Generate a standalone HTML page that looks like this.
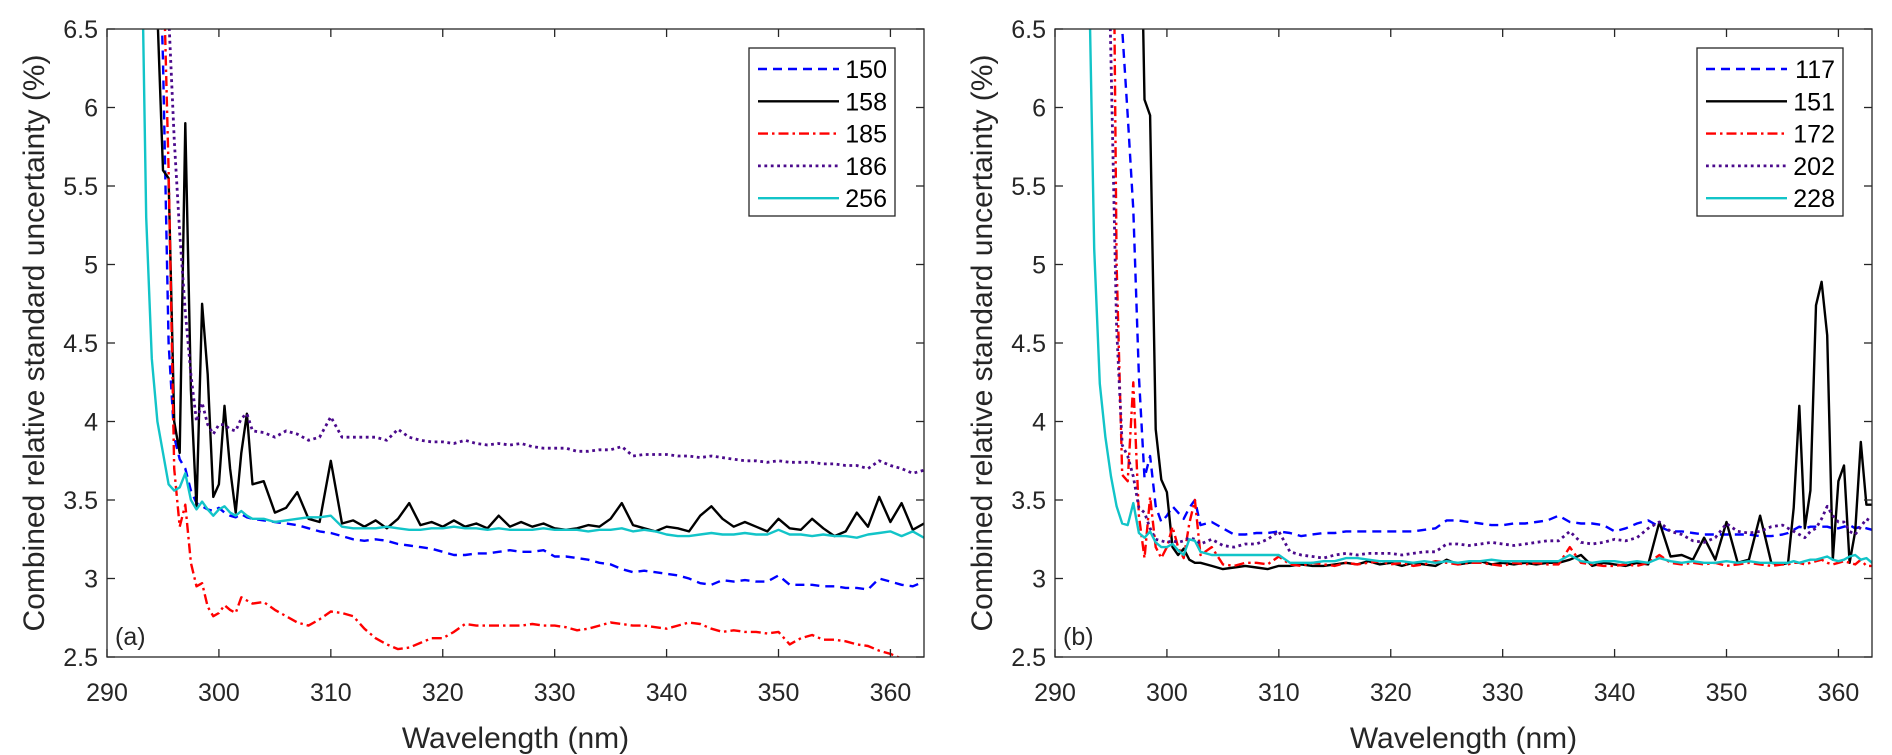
<!DOCTYPE html>
<html><head><meta charset="utf-8"><style>
html,body{margin:0;padding:0;background:#fff;}
svg{display:block;font-family:"Liberation Sans",sans-serif;}
</style></head><body>
<svg id="fig" width="1892" height="755" viewBox="0 0 1892 755"></svg>
<script>
// ---- data ----
const wavelengthsA = [293,293.5,294,294.5,295,295.5,296,296.5,297,297.5,298,298.5,299,299.5,300,300.5,301,301.5,302,302.5,303,
304,305,306,307,308,309,310,311,312,313,314,315,316,317,318,319,320,321,322,323,324,325,326,327,328,329,330,331,332,333,334,335,336,337,338,339,340,341,342,343,344,345,346,347,348,349,350,351,352,353,354,355,356,357,358,359,360,361,362,363];
const wavelengthsB = [293,293.5,294,294.5,295,295.5,296,296.5,297,297.5,298,298.5,299,299.5,300,300.5,301,301.5,302,302.5,303,
304,305,306,307,308,309,310,311,312,313,314,315,316,317,318,319,320,321,322,323,324,325,326,327,328,329,330,331,332,333,334,335,336,337,338,339,340,341,342,343,344,345,346,347,348,349,350,351,352,353,354,355,
355.5,356,356.5,357,357.5,358,358.5,359,359.5,360,360.5,361,361.5,362,362.5,363];

// panel (a)
const a150 = [9,9,8.5,7.5,6.3,4.5,3.9,3.76,3.7,3.56,3.48,3.46,3.44,3.43,3.45,3.42,3.40,3.39,3.41,3.39,3.38,
3.37,3.36,3.35,3.34,3.32,3.30,3.29,3.27,3.25,3.24,3.25,3.24,3.22,3.21,3.20,3.19,3.17,3.15,3.15,3.16,3.16,3.17,3.18,3.17,3.17,3.18,3.14,3.14,3.13,3.12,3.10,3.09,3.06,3.04,3.05,3.04,3.03,3.02,3.00,2.97,2.96,2.99,2.98,2.99,2.98,2.98,3.02,2.96,2.96,2.96,2.95,2.95,2.94,2.94,2.93,3.00,2.98,2.96,2.95,2.98];
const a158 = [9,8,7,6.6,5.6,5.55,4.0,3.8,5.9,4.2,3.45,4.75,4.3,3.52,3.6,4.1,3.7,3.42,3.8,4.05,3.6,
3.62,3.42,3.45,3.55,3.38,3.36,3.75,3.35,3.37,3.33,3.37,3.32,3.38,3.48,3.34,3.36,3.33,3.37,3.33,3.35,3.32,3.40,3.33,3.36,3.33,3.35,3.32,3.31,3.32,3.34,3.33,3.38,3.48,3.34,3.32,3.30,3.33,3.32,3.30,3.40,3.46,3.38,3.33,3.36,3.33,3.30,3.38,3.32,3.31,3.38,3.32,3.27,3.30,3.42,3.33,3.52,3.36,3.48,3.31,3.35];
const a185 = [9,9,9,8,7,5.6,3.7,3.33,3.47,3.1,2.95,2.97,2.82,2.76,2.78,2.83,2.80,2.78,2.88,2.86,2.84,
2.85,2.80,2.76,2.72,2.70,2.74,2.79,2.78,2.76,2.68,2.62,2.58,2.55,2.56,2.59,2.62,2.62,2.66,2.71,2.70,2.70,2.70,2.70,2.70,2.71,2.70,2.70,2.69,2.67,2.68,2.70,2.72,2.71,2.70,2.70,2.69,2.68,2.70,2.72,2.71,2.68,2.66,2.67,2.66,2.66,2.65,2.66,2.58,2.62,2.64,2.61,2.61,2.60,2.58,2.57,2.54,2.52,2.49,2.47,2.46];
const a186 = [9,9,9,8.5,7.5,6.6,5.8,5.2,4.7,4.3,4.0,4.12,3.98,3.92,3.98,3.98,3.95,3.94,4.02,4.05,3.94,
3.93,3.90,3.94,3.92,3.88,3.90,4.03,3.90,3.90,3.90,3.90,3.88,3.95,3.90,3.88,3.87,3.87,3.86,3.88,3.86,3.85,3.86,3.85,3.86,3.84,3.83,3.83,3.83,3.81,3.81,3.82,3.82,3.84,3.78,3.79,3.79,3.79,3.78,3.78,3.77,3.78,3.77,3.76,3.75,3.75,3.74,3.75,3.74,3.74,3.74,3.73,3.73,3.72,3.72,3.70,3.75,3.72,3.70,3.67,3.69];
const a256 = [7.5,5.3,4.4,4.0,3.8,3.6,3.56,3.58,3.67,3.50,3.44,3.49,3.44,3.40,3.44,3.46,3.42,3.40,3.43,3.40,3.38,
3.38,3.36,3.37,3.38,3.39,3.39,3.40,3.33,3.32,3.32,3.32,3.33,3.32,3.31,3.31,3.32,3.32,3.33,3.32,3.32,3.31,3.32,3.31,3.31,3.31,3.32,3.31,3.31,3.31,3.30,3.31,3.31,3.32,3.30,3.31,3.30,3.28,3.27,3.27,3.28,3.29,3.28,3.28,3.29,3.28,3.28,3.31,3.28,3.28,3.27,3.28,3.27,3.27,3.26,3.28,3.29,3.30,3.27,3.30,3.26];

// panel (b)
const b117 = [9,9,9,9,9,8,6.5,5.95,5.35,4.29,3.64,3.78,3.46,3.36,3.40,3.46,3.42,3.38,3.45,3.50,3.34,
3.36,3.32,3.28,3.28,3.29,3.29,3.30,3.29,3.27,3.28,3.29,3.29,3.30,3.30,3.30,3.30,3.30,3.30,3.30,3.31,3.32,3.37,3.37,3.36,3.35,3.34,3.34,3.35,3.35,3.36,3.37,3.40,3.36,3.35,3.35,3.34,3.30,3.32,3.35,3.37,3.33,3.30,3.30,3.29,3.28,3.28,3.28,3.28,3.28,3.27,3.27,3.28,
3.29,3.31,3.33,3.32,3.33,3.33,3.33,3.33,3.32,3.32,3.33,3.34,3.32,3.33,3.32,3.31];
const b151 = [9,9,9,9,9,9,9,9,9,8,6.05,5.95,3.95,3.63,3.55,3.2,3.15,3.19,3.12,3.10,3.10,
3.08,3.06,3.07,3.08,3.07,3.06,3.08,3.08,3.09,3.08,3.08,3.09,3.10,3.09,3.11,3.09,3.10,3.08,3.10,3.09,3.08,3.12,3.09,3.10,3.11,3.09,3.10,3.09,3.10,3.09,3.10,3.10,3.12,3.15,3.08,3.10,3.09,3.08,3.10,3.09,3.36,3.14,3.15,3.12,3.26,3.12,3.36,3.10,3.12,3.40,3.10,3.09,
3.10,3.45,4.10,3.32,3.56,4.74,4.89,4.55,3.12,3.62,3.72,3.10,3.30,3.87,3.47,3.47];
const b172 = [9,9,9,9,9,5.0,3.66,3.62,4.25,3.40,3.13,3.52,3.20,3.13,3.20,3.33,3.20,3.13,3.35,3.50,3.15,
3.20,3.09,3.08,3.10,3.10,3.09,3.14,3.09,3.08,3.10,3.09,3.08,3.10,3.09,3.10,3.11,3.09,3.10,3.08,3.09,3.11,3.10,3.09,3.10,3.10,3.09,3.08,3.10,3.09,3.10,3.09,3.09,3.20,3.10,3.09,3.08,3.08,3.09,3.08,3.10,3.15,3.10,3.09,3.10,3.09,3.10,3.08,3.09,3.10,3.09,3.08,3.09,
3.09,3.10,3.10,3.09,3.10,3.11,3.12,3.10,3.09,3.10,3.11,3.10,3.09,3.12,3.08,3.08];
const b202 = [9,9,9,8,6.3,4.6,3.85,3.78,3.65,3.45,3.42,3.32,3.25,3.24,3.23,3.24,3.23,3.24,3.26,3.25,3.22,
3.25,3.21,3.20,3.22,3.22,3.25,3.30,3.17,3.15,3.14,3.13,3.15,3.16,3.15,3.16,3.16,3.16,3.15,3.16,3.17,3.17,3.22,3.22,3.21,3.22,3.23,3.22,3.21,3.22,3.23,3.24,3.24,3.30,3.23,3.22,3.23,3.25,3.24,3.26,3.32,3.36,3.30,3.28,3.24,3.23,3.26,3.35,3.30,3.29,3.30,3.33,3.34,
3.32,3.30,3.28,3.26,3.30,3.32,3.38,3.46,3.40,3.36,3.36,3.30,3.28,3.33,3.38,3.36];
const b228 = [7,5.1,4.24,3.9,3.65,3.46,3.35,3.34,3.48,3.29,3.26,3.30,3.23,3.20,3.20,3.22,3.18,3.15,3.25,3.24,3.17,
3.15,3.15,3.15,3.15,3.15,3.15,3.15,3.10,3.10,3.10,3.11,3.11,3.13,3.13,3.12,3.11,3.11,3.11,3.10,3.11,3.10,3.11,3.10,3.11,3.11,3.12,3.11,3.11,3.11,3.11,3.11,3.11,3.15,3.11,3.10,3.11,3.11,3.10,3.11,3.10,3.13,3.11,3.10,3.11,3.10,3.10,3.11,3.10,3.11,3.10,3.10,3.10,
3.10,3.11,3.10,3.11,3.12,3.12,3.13,3.14,3.12,3.11,3.12,3.14,3.15,3.12,3.13,3.10];

const xTicks = [290,300,310,320,330,340,350,360];
const yTicks = [2.5,3,3.5,4,4.5,5,5.5,6,6.5];
const yTickLabels = ["2.5","3","3.5","4","4.5","5","5.5","6","6.5"];
const namesA = ["150","158","185","186","256"];
const namesB = ["117","151","172","202","228"];

// ---- drawing ----
const NS = "http://www.w3.org/2000/svg";
const svg = document.getElementById('fig');
const styles = [
  {color:"#0000ff", dash:"9,6", w:2.4},
  {color:"#000000", dash:"", w:2.4},
  {color:"#ff0000", dash:"10,4,2.5,4", w:2.4},
  {color:"#4b0a8c", dash:"2.8,3.6", w:2.8},
  {color:"#12c4c8", dash:"", w:2.4}
];
function mk(tag, attrs, parent){
  const e = document.createElementNS(NS, tag);
  for (const k in attrs) e.setAttribute(k, attrs[k]);
  (parent||svg).appendChild(e);
  return e;
}
const TOP = 29, BOT = 657, W = 817;
function drawPanel(left, label, xs, seriesList, names, pid){
  const g = mk('g', {});
  
  
  const xS = v => left + (v - 290) * (W / 73);
  const yS = v => BOT - (v - 2.5) * ((BOT - TOP) / 4);
  const clipId = 'clip' + pid;
  const cp = mk('clipPath', {id: clipId}, g);
  mk('rect', {x:left, y:TOP, width:W, height:BOT-TOP}, cp);
  const sg = mk('g', {'clip-path': 'url(#' + clipId + ')'}, g);
  seriesList.forEach((vals, i) => {
    const n = Math.min(vals.length, xs.length);
    let d = '';
    for (let k = 0; k < n; k++) d += (k ? 'L' : 'M') + xS(xs[k]).toFixed(1) + ',' + yS(vals[k]).toFixed(1);
    const p = mk('path', {d: d, fill: 'none', stroke: styles[i].color, 'stroke-width': styles[i].w, 'stroke-linejoin': 'round'}, sg);
    if (styles[i].dash) p.setAttribute('stroke-dasharray', styles[i].dash);
    
    
  });
  const box = mk('rect', {x:left, y:TOP, width:W, height:BOT-TOP, fill:'none', stroke:'#262626', 'stroke-width':1.3}, g);
  
  
  xTicks.forEach(t => {
    const x = xS(t);
    mk('line', {x1:x, x2:x, y1:BOT, y2:BOT-8, stroke:'#262626', 'stroke-width':1.3}, g);
    mk('line', {x1:x, x2:x, y1:TOP, y2:TOP+8, stroke:'#262626', 'stroke-width':1.3}, g);
    const tx = mk('text', {x:x, y:BOT+44, 'text-anchor':'middle', 'font-size':25, fill:'#262626'}, g);
    tx.textContent = t;
    
    
  });
  yTicks.forEach((t, i) => {
    const y = yS(t);
    mk('line', {x1:left, x2:left+8, y1:y, y2:y, stroke:'#262626', 'stroke-width':1.3}, g);
    mk('line', {x1:left+W, x2:left+W-8, y1:y, y2:y, stroke:'#262626', 'stroke-width':1.3}, g);
    const ty = mk('text', {x:left-9, y:y+9, 'text-anchor':'end', 'font-size':25, fill:'#262626'}, g);
    ty.textContent = yTickLabels[i];
    
    
  });
  const xt = mk('text', {x:left+W/2, y:748, 'text-anchor':'middle', 'font-size':30, fill:'#262626'}, g);
  xt.textContent = 'Wavelength (nm)';
  
  
  const yc = (TOP+BOT)/2, yx = left-73;
  const yt = mk('text', {x:yx, y:yc, 'text-anchor':'middle', 'font-size':30, fill:'#262626', transform:'rotate(-90 '+yx+' '+yc+')', dy:'10'}, g);
  yt.textContent = 'Combined relative standard uncertainty (%)';
  
  
  const pl = mk('text', {x:left+8, y:BOT-12, 'font-size':25, fill:'#262626'}, g);
  pl.textContent = label;
  
  
  const lx = left + 642, ly = 48;
  const lg = mk('g', {}, g);
  
  
  mk('rect', {x:lx, y:ly, width:146, height:168, fill:'#fff', stroke:'#262626', 'stroke-width':1.3}, lg);
  names.forEach((nm, i) => {
    const yy = ly + 21 + i * 32.3;
    const e = mk('g', {}, lg);
    
    
    const ln = mk('line', {x1:lx+9, x2:lx+90, y1:yy, y2:yy, stroke:styles[i].color, 'stroke-width':styles[i].w}, e);
    if (styles[i].dash) ln.setAttribute('stroke-dasharray', styles[i].dash);
    const tt = mk('text', {x:lx+138, y:yy+9, 'text-anchor':'end', 'font-size':25, fill:'#000'}, e);
    tt.textContent = nm;
  });
}
drawPanel(107, '(a)', wavelengthsA, [a150, a158, a185, a186, a256], namesA, 'a');
drawPanel(1055, '(b)', wavelengthsB, [b117, b151, b172, b202, b228], namesB, 'b');
</script>
</body></html>
